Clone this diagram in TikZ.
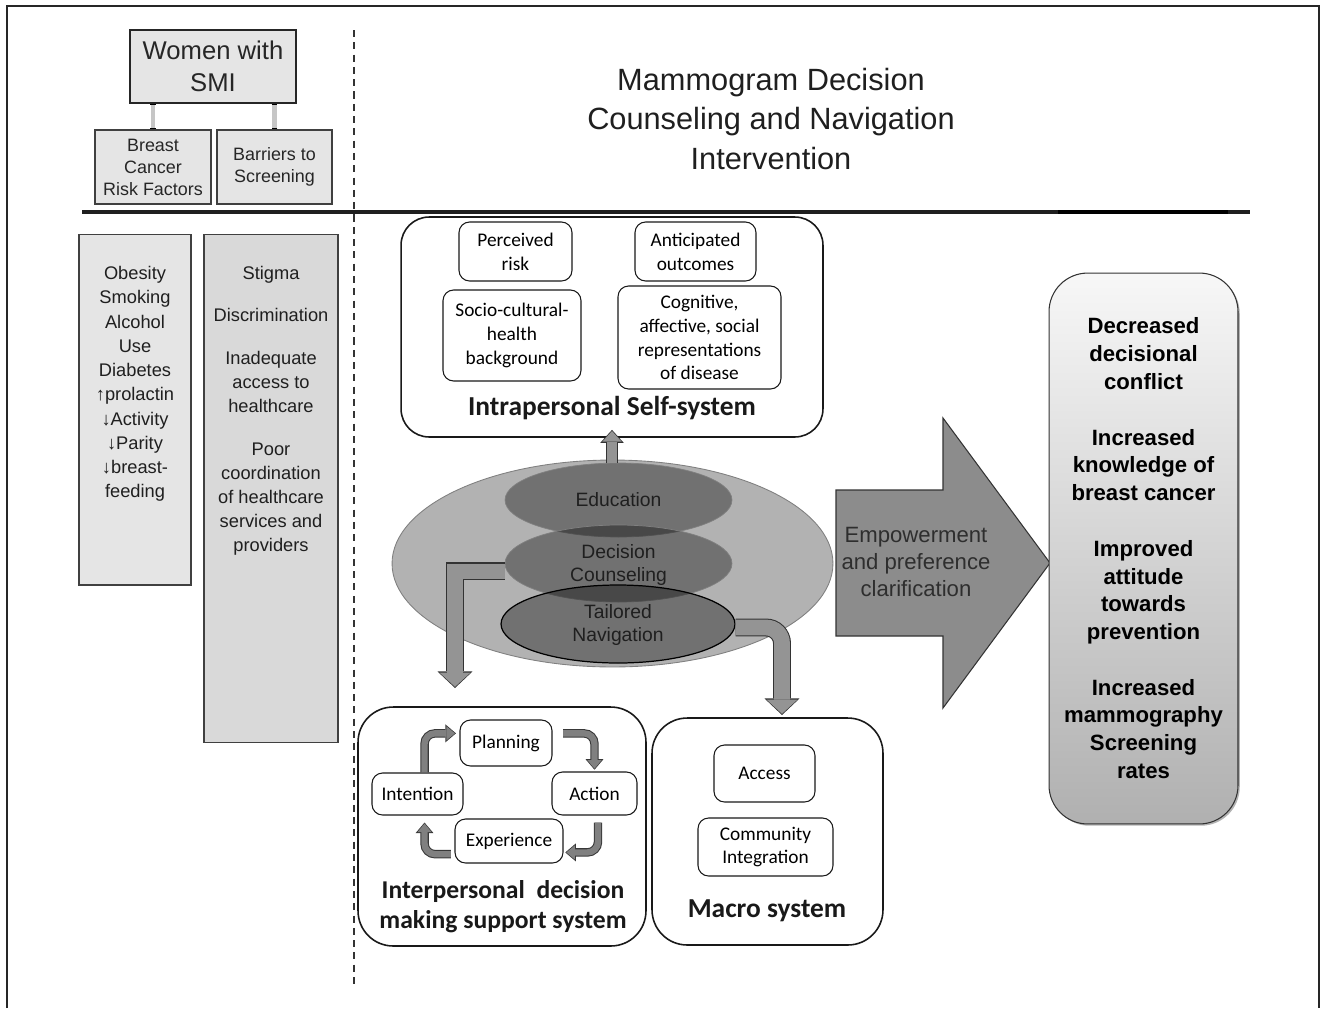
\documentclass[tikz,border=0pt]{standalone}
\usepackage{fontspec}
\setmainfont{Liberation Sans}
\newfontfamily\calib{Carlito}
\usetikzlibrary{arrows.meta,shapes.geometric,shadows}

\begin{document}
\begin{tikzpicture}[x=0.02cm, y=-0.02cm,
	gbox/.style={draw=black!75, fill=gray!20, line width=0.6pt, align=center, inner sep=0pt, text=black!85},
	sysbox/.style={draw=black!90, line width=0.9pt, rounded corners=16pt, inner sep=0pt},
	item/.style={draw=black!90, line width=0.6pt, fill=white, rounded corners=6pt, align=center, inner sep=0pt, font=\calib\fontsize{11}{13.6}\selectfont},
	systitle/.style={font=\calib\bfseries\fontsize{15.6}{17}\selectfont, align=center, text=black!90},
	layer/.style={ellipse, fill=black, fill opacity=0.36, inner sep=0pt},
	layertxt/.style={align=center, inner sep=0pt, text=black!88, font=\fontsize{11}{13.5}\selectfont},
	link/.style={line width=2.8pt, draw=gray!45, {Bar[width=3.2pt,line width=1pt,black]}-{Bar[width=3.2pt,line width=1pt,black]}},
	fatup/.style={line width=5.7pt, draw=black!42, shorten >=0.7pt, -{Triangle[length=6pt,width=11pt,line width=0pt]},
		preaction={draw=black!80, line width=6.9pt, shorten >=0pt, -{Triangle[length=7.4pt,width=13.4pt,line width=0pt]}}},
	fatdown/.style={line width=9pt, draw=black!42, shorten >=0.7pt, -{Triangle[length=8pt,width=17.5pt,line width=0pt]},
		preaction={draw=black!80, line width=10.2pt, shorten >=0pt, -{Triangle[length=9.4pt,width=19.9pt,line width=0pt]}}},
	cyc/.style={line width=3.6pt, draw=black!50, shorten >=0.6pt, -{Triangle[length=4.8pt,width=8pt,line width=0pt]},
		preaction={draw=black!78, line width=4.8pt, shorten >=0pt, -{Triangle[length=6pt,width=10.2pt,line width=0pt]}}}]
	\useasboundingbox (0,0) rectangle (1321,1008);
	\draw[line width=0.9pt, black!85] (7,1008) -- (7,6) -- (1319,6) -- (1319,1008);
	\draw[dash pattern=on 4pt off 3pt, line width=0.9pt, black!80] (354,30) -- (354,988);
	\draw[line width=2.2pt, black!88] (82,212) -- (1250,212);
	\draw[line width=2.8pt, black] (1058,212) -- (1228,212);

	\node[gbox, draw=black!85, minimum width=3.32cm, minimum height=1.46cm, font=\fontsize{14.6}{18}\selectfont] (women) at (213,66.5) {Women with\\SMI};
	\node[gbox, minimum width=2.32cm, minimum height=1.48cm, font=\fontsize{10.2}{12.5}\selectfont] (risk) at (153,167) {Breast\\Cancer\\Risk Factors};
	\node[gbox, minimum width=2.30cm, minimum height=1.48cm, font=\fontsize{10.2}{12.5}\selectfont] (barr) at (274.5,167) {Barriers to\\Screening};
	\draw[link] (risk.north |- women.south) -- (risk.north);
	\draw[link] (barr.north |- women.south) -- (barr.north);

	\node[gbox, minimum width=2.24cm, minimum height=7.02cm] (riskl) at (135,409.5) {};
	\node[font=\fontsize{10.4}{13.8}\selectfont, align=center, text=black!88] (risktxt) at (135,384) {Obesity\\Smoking\\Alcohol\\Use\\Diabetes\\↑prolactin\\↓Activity\\↓Parity\\↓breast-\\feeding};
	\node[gbox, fill=gray!30, minimum width=2.68cm, minimum height=10.18cm] (barl) at (271,488.5) {};
	\node[font=\fontsize{10.4}{13.8}\selectfont, align=center, text=black!88] (bartxt) at (271,411) {Stigma\\[10.3pt]Discrimination\\[10.3pt]Inadequate\\access to\\healthcare\\[10.3pt]Poor\\coordination\\of healthcare\\services and\\providers};

	\node[font=\fontsize{17.5}{22.2}\selectfont, align=center, text=black!88] (title) at (771,119) {Mammogram Decision\\Counseling and Navigation\\Intervention};

	\node[sysbox, minimum width=8.44cm, minimum height=4.40cm] (intra) at (612,327) {};
	\node[item, minimum width=2.26cm, minimum height=1.18cm] (perc) at (515.5,251.5) {Perceived\\risk};
	\node[item, minimum width=2.42cm, minimum height=1.18cm] (antic) at (695.5,251.5) {Anticipated\\outcomes};
	\node[item, minimum width=2.76cm, minimum height=1.82cm] (socio) at (512,335.5) {Socio-cultural-\\health\\background};
	\node[item, minimum width=3.26cm, minimum height=2.06cm] (cogn) at (699.5,337.5) {Cognitive,\\affective, social\\representations\\of disease};
	\node[systitle] (intratitle) at (612,408) {Intrapersonal Self-system};

	\node[ellipse, fill=gray!60, draw=black!50, line width=0.5pt, minimum width=8.82cm, minimum height=4.14cm, inner sep=0pt] (core) at (612.5,563.5) {};
	\node[layer, draw=black!50, minimum width=4.54cm, minimum height=1.48cm] (edu) at (618.5,500) {};
	\node[layer, draw=black!50, minimum width=4.54cm, minimum height=1.54cm] (dc) at (618.5,563.5) {};
	\node[layer, draw=black, line width=0.7pt, minimum width=4.68cm, minimum height=1.56cm] (tn) at (618,624) {};
	\node[layertxt] (edutxt) at (edu) {Education};
	\node[layertxt] (dctxt) at (618.5,565) {Decision\\Counseling};
	\node[layertxt] (tntxt) at (618,625) {Tailored\\Navigation};

	\draw[fatup] (edu.north -| intra.south) -- ([yshift=4.5pt]intra.south);
	\coordinate (ltip) at (455,688);
	\coordinate (mtip) at (782,715);
	\draw[fatdown] ([yshift=-4.5pt]dc.west) -| (ltip);
	\draw[fatdown, rounded corners=9pt] ([yshift=-2pt]tn.east) -| (mtip);

	\node[sysbox, rounded corners=20pt, minimum width=5.76cm, minimum height=4.78cm] (inter) at (502,826.5) {};
	\node[item, minimum width=1.84cm, minimum height=0.92cm] (plan) at (506,743) {Planning};
	\node[item, minimum width=1.82cm, minimum height=0.84cm] (intent) at (417.5,794) {Intention};
	\node[item, minimum width=1.70cm, minimum height=0.86cm] (act) at (594.5,793.5) {Action};
	\node[item, minimum width=2.16cm, minimum height=0.88cm] (exper) at (509,841) {Experience};
	\draw[cyc, rounded corners=6pt] ([xshift=4pt]intent.north) |- ([xshift=-2pt,yshift=5.5pt]plan.west);
	\draw[cyc, rounded corners=6pt] ([xshift=6pt,yshift=5.5pt]plan.east) -| ([yshift=1pt]act.north);
	\draw[cyc, rounded corners=6pt] ([xshift=2pt,yshift=-4pt]act.south) |- ([xshift=1pt,yshift=-6.5pt]exper.east);
	\draw[cyc, rounded corners=6pt] ([xshift=-2pt,yshift=-7.5pt]exper.west) -| ([xshift=4pt,yshift=-4pt]intent.south);
	\node[systitle, font=\calib\bfseries\fontsize{14.6}{17}\selectfont] (intertitle) at (503,907) {Interpersonal\ \ decision\\making support system};

	\node[sysbox, rounded corners=20pt, minimum width=4.62cm, minimum height=4.54cm] (macro) at (767.5,831.5) {};
	\node[item, minimum width=2.02cm, minimum height=1.14cm] (access) at (764.5,773.5) {Access};
	\node[item, minimum width=2.70cm, minimum height=1.16cm] (commun) at (765.5,847) {Community\\Integration};
	\node[systitle] (macrotitle) at (767,911) {Macro system};

	\draw[draw=black!80, fill=black!45, line width=0.6pt] (836,490) -- (943,490) -- (943,418) -- (1050,563) -- (943,708) -- (943,636) -- (836,636) -- cycle;
	\node[font=\fontsize{12.6}{15.3}\selectfont, align=center, text=black!82] (emp) at (916,562) {Empowerment\\and preference\\clarification};

	\node[draw=black!80, line width=0.6pt, rounded corners=22pt, top color=gray!6, bottom color=gray!62, drop shadow={shadow xshift=1pt, shadow yshift=-1pt, opacity=0.6}, minimum width=3.78cm, minimum height=11.02cm, align=center, inner sep=0pt, font=\bfseries\fontsize{12.6}{15.9}\selectfont] (outc) at (1143.5,548.5) {Decreased\\decisional\\conflict\\[15.5pt]Increased\\knowledge of\\breast cancer\\[15.5pt]Improved\\attitude\\towards\\prevention\\[15.5pt]Increased\\mammography\\Screening\\rates};
\end{tikzpicture}
\end{document}
